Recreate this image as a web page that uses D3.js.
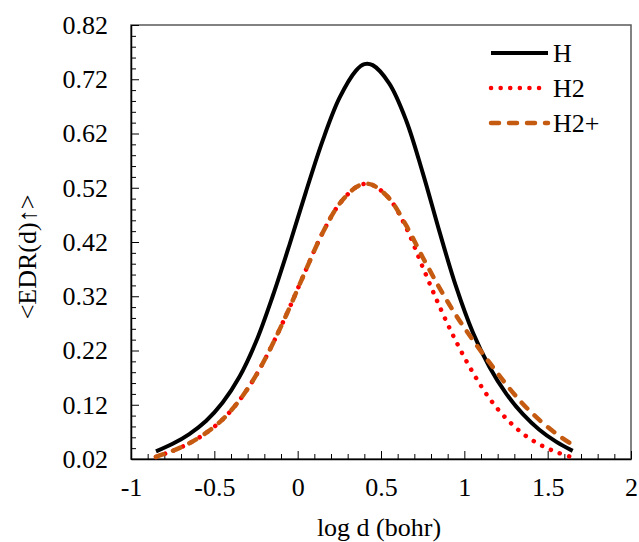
<!DOCTYPE html>
<html>
<head>
<meta charset="utf-8">
<script src="https://cdn.jsdelivr.net/npm/d3@7"></script>
</head>
<body style="margin:0">
<svg id="chart" width="639" height="542"></svg>
<script>
// values
const logD = [-0.85, -0.75, -0.65, -0.55, -0.45, -0.35, -0.25, -0.15, -0.05, 0.05, 0.15, 0.25, 0.35, 0.40,
              0.45, 0.55, 0.65, 0.75, 0.85, 0.95, 1.05, 1.15, 1.25, 1.35, 1.45, 1.55, 1.65];
const edrH = [0.034, 0.048, 0.066, 0.090, 0.124, 0.171, 0.236, 0.320, 0.414, 0.513, 0.607, 0.685, 0.736, 0.748,
              0.746, 0.712, 0.645, 0.548, 0.440, 0.338, 0.254, 0.190, 0.141, 0.103, 0.074, 0.052, 0.035];
const edrH2 = [0.024, 0.035, 0.049, 0.068, 0.093, 0.128, 0.174, 0.232, 0.298, 0.369, 0.437, 0.490, 0.521, 0.527,
               0.525, 0.500, 0.447, 0.374, 0.302, 0.237, 0.180, 0.132, 0.095, 0.067, 0.047, 0.033, 0.023];
const edrH2p = [0.024, 0.035, 0.049, 0.068, 0.093, 0.128, 0.174, 0.232, 0.298, 0.369, 0.437, 0.490, 0.521, 0.527,
                0.525, 0.500, 0.451, 0.392, 0.336, 0.285, 0.240, 0.198, 0.158, 0.122, 0.092, 0.067, 0.046];
const seriesNames = ["H", "H2", "H2+"];
const xTicks = [-1, -0.5, 0, 0.5, 1, 1.5, 2];
const yTicks = [0.02, 0.12, 0.22, 0.32, 0.42, 0.52, 0.62, 0.72, 0.82];

const FONT = "Liberation Serif";

const margin = { top: 25, right: 8, bottom: 83, left: 131 },
    width = 500,
    height = 434;

const svg = d3.select("#chart");

const chart = svg.append("g")
    .attr("transform", `translate(${margin.left},${margin.top})`);

const x = d3.scaleLinear().domain([-1, 2]).range([0, width]);
const y = d3.scaleLinear().domain([0.02, 0.82]).range([height, 0]);

function serif(sel) {
    sel.attr("font-family", FONT)
        .attr("font-size", 26)
        .attr("fill", "#000")
        .style("font-family", FONT)
        .style("font-size", "26px");
}

// frame (top and right)
chart.append("rect")
    .attr("x", 0).attr("y", 0)
    .attr("width", width).attr("height", height)
    .attr("fill", "none")
    .attr("stroke", "#595959")
    .attr("stroke-width", 1.5);

// minor ticks
const xMinor = d3.range(-10, 21).map(i => i / 10).filter(v => !xTicks.some(t => Math.abs(t - v) < 1e-9));
const yMinor = d3.range(1, 42).map(i => +(i * 0.02).toFixed(2)).filter(v => !yTicks.some(t => Math.abs(t - v) < 1e-9));

chart.append("g")
    .attr("transform", `translate(0,${height})`)
    .call(d3.axisBottom(x).tickValues(xMinor).tickFormat("").tickSize(-5).tickSizeOuter(0))
    .call(g => g.select(".domain").remove());
chart.append("g")
    .call(d3.axisLeft(y).tickValues(yMinor).tickFormat("").tickSize(-5).tickSizeOuter(0))
    .call(g => g.select(".domain").remove());

// major axes
chart.append("g")
    .attr("transform", `translate(0,${height})`)
    .call(d3.axisBottom(x).tickValues(xTicks).tickFormat(d => String(d)).tickSize(-8).tickSizeOuter(0).tickPadding(19))
    .call(g => g.select(".domain").attr("stroke-width", 1.5))
    .call(g => g.selectAll("text").call(serif));

chart.append("g")
    .call(d3.axisLeft(y).tickValues(yTicks).tickFormat(d3.format(".2f")).tickSize(-8).tickSizeOuter(0).tickPadding(23))
    .call(g => g.select(".domain").attr("stroke-width", 1.5))
    .call(g => g.selectAll("text").call(serif));

// lines
const line = d3.line()
    .x(d => x(d[0]))
    .y(d => y(d[1]))
    .curve(d3.curveCatmullRom.alpha(0.5));

const series = [
    { name: seriesNames[0], values: edrH, color: "#000000", dash: null, cap: "butt", w: 4 },
    { name: seriesNames[1], values: edrH2, color: "#FF0000", dash: "0.1,9.5", cap: "round", w: 4.5 },
    { name: seriesNames[2], values: edrH2p, color: "#C55A11", dash: "8,10", cap: "round", w: 4.5 }
];

series.forEach(s => {
    chart.append("path")
        .datum(logD.map((v, i) => [v, s.values[i]]))
        .attr("fill", "none")
        .attr("stroke", s.color)
        .attr("stroke-width", s.w)
        .attr("stroke-linecap", s.cap)
        .attr("stroke-dasharray", s.dash)
        .attr("d", line);
});

// legend
const legend = svg.append("g");
series.forEach((s, i) => {
    const ly = 53 + i * 35;
    legend.append("line")
        .attr("x1", 491).attr("x2", 548)
        .attr("y1", ly).attr("y2", ly)
        .attr("stroke", s.color)
        .attr("stroke-width", s.w)
        .attr("stroke-linecap", s.cap)
        .attr("stroke-dasharray", s.dash);
    legend.append("text")
        .attr("x", 553)
        .attr("y", ly)
        .attr("dy", "0.35em")
        .call(serif)
        .text(s.name);
});

// axis titles
svg.append("text")
    .attr("x", margin.left + width / 2 - 2)
    .attr("y", 536)
    .attr("text-anchor", "middle")
    .call(serif)
    .text("log d (bohr)");

svg.append("text")
    .attr("transform", "translate(36,257) rotate(-90)")
    .attr("text-anchor", "middle")
    .call(serif)
    .text("<EDR(d)↑>");
</script>
</body>
</html>
